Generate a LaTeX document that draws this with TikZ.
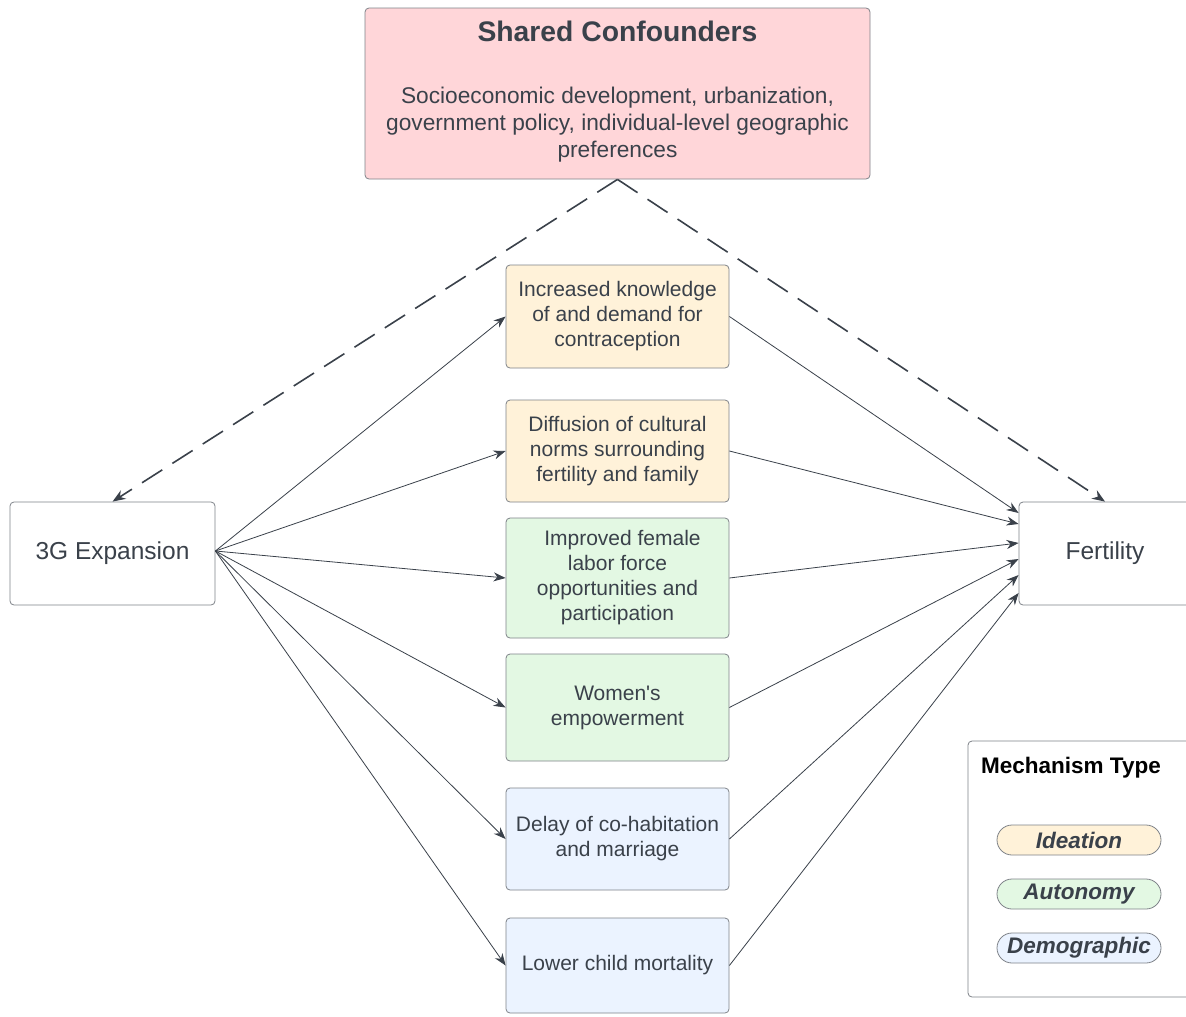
\documentclass[tikz,border=0pt]{standalone}
\usepackage{fontspec}
\setmainfont{Liberation Sans}[Ligatures=TeXOff]
\usetikzlibrary{arrows.meta}
\definecolor{txt}{HTML}{3A414A}
\definecolor{edgec}{HTML}{7F8389}
\definecolor{ide}{HTML}{FFF2D9}
\definecolor{aut}{HTML}{E3F8E3}
\definecolor{dem}{HTML}{EBF3FF}
\definecolor{cnf}{HTML}{FFD6D9}
\begin{document}
\begin{tikzpicture}[x=1pt,y=-1pt,
  box/.style={draw=edgec, line width=0.8pt, rounded corners=4pt, text=txt, align=center, inner sep=0pt},
  mech/.style={box, minimum width=223pt, font=\fontsize{21}{25}\selectfont},
  bigbox/.style={box, minimum width=205pt, minimum height=103pt, font=\fontsize{24.5}{28}\selectfont},
  arr/.style={-{Stealth[length=12pt,width=9pt]}, draw=txt, line width=0.8pt},
  dsh/.style={-{Stealth[length=13pt,width=10pt]}, draw=txt, line width=1.6pt, dash pattern=on 24pt off 12pt},
  pill/.style={draw=edgec, line width=0.8pt, rounded corners=15pt, minimum width=164pt, minimum height=30pt, inner sep=0pt, text=txt, font=\fontsize{22.5}{26}\selectfont\bfseries\itshape}
]
\useasboundingbox (0,0) rectangle (1186,1017);
\clip (0,0) rectangle (1186,1017);
\fill[white] (0,0) rectangle (1186,1017);

% confounders
\node[box, fill=cnf, minimum width=505pt, minimum height=171pt] (conf) at (617.5,93.5) {};
\node[text=txt, font=\fontsize{28.3}{32}\selectfont\bfseries] (conftitle) at (617.5,31) {Shared Confounders};
\node[text=txt, align=center, font=\fontsize{22.7}{27}\selectfont] (confbody) at (617.5,124.5) {Socioeconomic development, urbanization,\\government policy, individual-level geographic\\preferences};

% endpoints
\node[bigbox] (g3) at (112.5,553.5) {3G Expansion};
\node[bigbox, minimum width=172pt] (fert) at (1105,553.5) {Fertility};

% mechanisms
\node[mech, fill=ide, minimum height=103pt] (m1) at (617.5,316.5) {Increased knowledge\\of and demand for\\contraception};
\node[mech, fill=ide, minimum height=102pt] (m2) at (617.5,451) {Diffusion of cultural\\norms surrounding\\fertility and family};
\node[mech, fill=aut, minimum height=120pt] (m3) at (617.5,578) {\hspace*{10pt}Improved female\\labor force\\opportunities and\\participation};
\node[mech, fill=aut, minimum height=107pt] (m4) at (617.5,707.5) {Women's\\empowerment};
\node[mech, fill=dem, minimum height=102pt] (m5) at (617.5,839) {Delay of co-habitation\\and marriage};
\node[mech, fill=dem, minimum height=95pt] (m6) at (617.5,965.5) {Lower child mortality};

% legend
\node[draw=edgec, line width=0.8pt, rounded corners=4pt, minimum width=222pt, minimum height=256pt, inner sep=0pt] (leg) at (1079,869) {};
\node[anchor=west, inner sep=0pt, text=black, font=\fontsize{22.5}{26}\selectfont\bfseries] (legtitle) at (981,767.5) {Mechanism Type};
\node[pill, fill=ide] (lide) at (1079,840) {Ideation};
\node[pill, fill=aut] (laut) at (1079,894) {Autonomy};
\node[pill, fill=dem] (ldem) at (1079,948) {Demographic};

% arrows from 3G
\coordinate (g3out) at ([yshift=2.5pt]g3.east);
\foreach \m in {m1,m2,m3,m4,m5,m6} \draw[arr] (g3out) -- (\m.west);

% arrows to fertility
\draw[arr] (m1.east) -- ([yshift=40.5pt]fert.west);
\draw[arr] (m2.east) -- ([yshift=29.5pt]fert.west);
\draw[arr] (m3.east) -- ([yshift=10.5pt]fert.west);
\draw[arr] (m4.east) -- ([yshift=-5.5pt]fert.west);
\draw[arr] (m5.east) -- ([yshift=-21.5pt]fert.west);
\draw[arr] (m6.east) -- ([yshift=-39.5pt]fert.west);

% dashed confounder arrows
\draw[dsh] (conf.south) -- (g3.north);
\draw[dsh] (conf.south) -- (fert.north);
\end{tikzpicture}
\end{document}
